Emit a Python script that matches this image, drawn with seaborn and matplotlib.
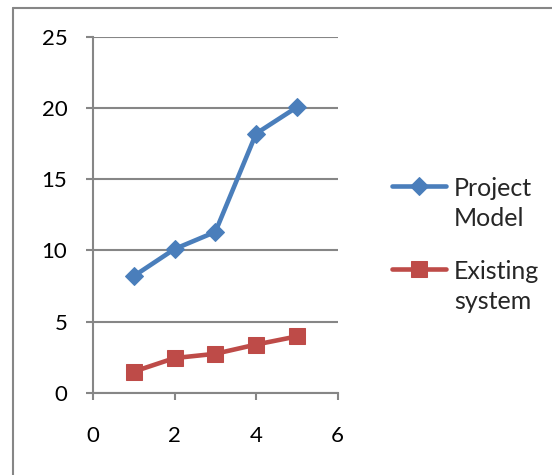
import matplotlib
matplotlib.use("Agg")
import matplotlib.pyplot as plt
import seaborn as sns
import pandas as pd
from matplotlib.lines import Line2D
from matplotlib.legend_handler import HandlerLine2D

x_vals = [1, 2, 3, 4, 5]
project_model = [8.2, 10.1, 11.3, 18.2, 20.05]
existing_system = [1.5, 2.45, 2.75, 3.4, 3.97]
series_names = ["Project\nModel", "Existing\nsystem"]
x_ticks = [0, 2, 4, 6]
y_ticks = [0, 5, 10, 15, 20, 25]

sns.set_theme(style="white")
plt.rcParams["font.family"] = ["Lato", "DejaVu Sans"]

df = pd.DataFrame({
    "x": x_vals * 2,
    "y": project_model + existing_system,
    "series": [series_names[0]] * 5 + [series_names[1]] * 5,
})

W, H = 552, 475
fig = plt.figure(figsize=(W / 100, H / 100), dpi=100)
ax = fig.add_axes([93 / W, 1 - 393 / H, (337.7 - 93) / W, (393 - 36.6) / H])

blue = "#4A7EBB"
red = "#BE4B48"
grid_c = "#868686"

sns.lineplot(data=df[df.series == series_names[0]], x="x", y="y", ax=ax,
             color=blue, lw=3.3, marker="D", markersize=9.5,
             markeredgecolor=blue, label=series_names[0])
sns.lineplot(data=df[df.series == series_names[1]], x="x", y="y", ax=ax,
             color=red, lw=3.3, marker="s", markersize=12,
             markeredgecolor=red, label=series_names[1])

ax.set_xlim(0, 6)
ax.set_ylim(0, 25)
ax.set_xticks(x_ticks)
ax.set_yticks(y_ticks)
ax.set_xlabel("")
ax.set_ylabel("")
ax.yaxis.grid(True, color=grid_c, lw=1.5)
ax.set_axisbelow(True)
for s in ["top", "right"]:
    ax.spines[s].set_visible(False)
for s in ["left", "bottom"]:
    ax.spines[s].set_color(grid_c)
    ax.spines[s].set_linewidth(1.5)
ax.tick_params(axis="both", which="both", direction="out", length=5,
               width=1.5, color=grid_c, labelsize=16, labelcolor="black")
ax.tick_params(axis="x", pad=19, bottom=True)
ax.tick_params(axis="y", pad=13.5, left=True)

LEG_FS = 18


class HandlerUp(HandlerLine2D):
    def create_artists(self, legend, orig_handle, xdescent, ydescent,
                       width, height, fontsize, trans):
        return super().create_artists(legend, orig_handle, xdescent,
                                      ydescent - 1.45 * fontsize,
                                      width, height, fontsize, trans)


handles, labels = ax.get_legend_handles_labels()
leg = ax.legend(handles, labels, loc="center left",
                bbox_to_anchor=(369.5 / W, 1 - 245 / H),
                bbox_transform=fig.transFigure,
                frameon=False, fontsize=LEG_FS, handlelength=2.15,
                handletextpad=0.32, labelspacing=1.2,
                handler_map={Line2D: HandlerUp()})
for t in leg.get_texts():
    t.set_linespacing(1.38)

# outer chart border
fig.add_artist(Line2D([13 / W, 13 / W], [0, 1 - 8 / H], transform=fig.transFigure,
                      color=grid_c, lw=1.5))
fig.add_artist(Line2D([13 / W, 1], [1 - 8 / H, 1 - 8 / H], transform=fig.transFigure,
                      color=grid_c, lw=1.5))

fig.savefig("out.png", dpi=100)
